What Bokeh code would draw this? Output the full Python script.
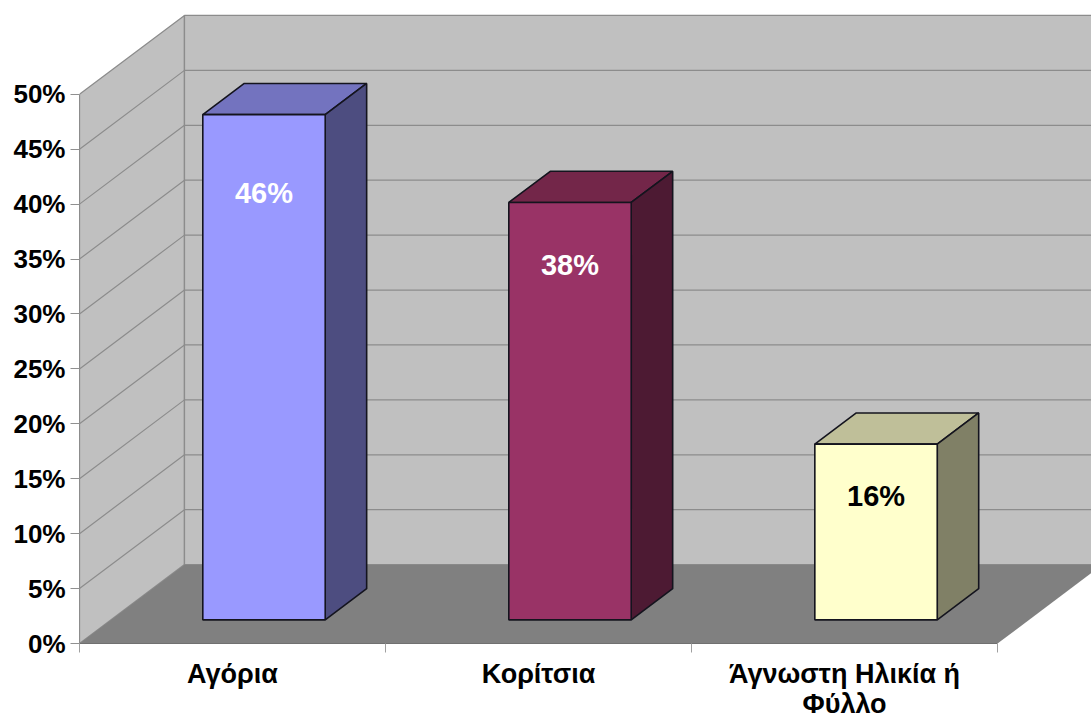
from bokeh.plotting import figure
from bokeh.models import FixedTicker, Range1d
from bokeh.core.properties import value
from bokeh.embed import file_html
from bokeh.resources import INLINE

categories = ["Αγόρια", "Κορίτσια", "Άγνωστη Ηλικία ή\nΦύλλο"]
shares = [46, 38, 16]
share_labels = ["46%", "38%", "16%"]
y_ticks = [0, 5, 10, 15, 20, 25, 30, 35, 40, 45, 50]
y_tick_labels = ["0%", "5%", "10%", "15%", "20%", "25%", "30%", "35%", "40%", "45%", "50%"]
label_heights = [41.05, 34.5, 13.45]
label_colors = ["#FFFFFF", "#FFFFFF", "#000000"]
face_colors = ["#9999FF", "#993366", "#FFFFCC"]
top_colors = ["#7373BF", "#732649", "#BFBF99"]
side_colors = ["#4D4D80", "#4D1A33", "#808066"]

FONT = "Liberation Sans"
DX, DY = 0.343, 7.18          # offset of the back wall from the front plane
D0, D1 = 0.30, 0.695          # depth span of a bar
HALF = 0.2                    # half of a bar's width
XMAX, YMAX = 3.307, 58.54
GRID = "#8C8C8C"
EDGE = "#14141E"


def prj(x, y, d):
    return x + d * DX, y + d * DY


p = figure(width=1091, height=722, x_range=Range1d(0, XMAX), y_range=Range1d(0, YMAX),
           output_backend="svg", toolbar_location=None,
           min_border_left=79, min_border_right=0, min_border_top=0, min_border_bottom=78,
           background_fill_color="white", border_fill_color="white", outline_line_color=None)
p.grid.visible = False


def poly(points, fill, line=None, width=1.0):
    xs = [q[0] for q in points]
    ys = [q[1] for q in points]
    p.patch(xs, ys, fill_color=fill, line_color=line, line_width=width)


n = len(categories)
top = y_ticks[-1]
# left wall, back wall, floor
poly([prj(0, 0, 0), prj(0, 0, 1), prj(0, top, 1), prj(0, top, 0)], "#C0C0C0", GRID, 1.3)
poly([prj(0, 0, 1), prj(n, 0, 1), prj(n, top, 1), prj(0, top, 1)], "#C0C0C0", GRID, 1.3)
for t in y_ticks[1:-1]:
    a, b, c = prj(0, t, 0), prj(0, t, 1), prj(n, t, 1)
    p.line([a[0], b[0], c[0]], [a[1], b[1], c[1]], line_color=GRID, line_width=1.2)
poly([prj(0, 0, 0), prj(n, 0, 0), prj(n, 0, 1), prj(0, 0, 1)], "#808080", None)

for i, v in enumerate(shares):
    cx = i + 0.5
    l, r = cx - HALF, cx + HALF
    poly([prj(l, v, D0), prj(r, v, D0), prj(r, v, D1), prj(l, v, D1)], top_colors[i], EDGE, 1.6)
    poly([prj(r, 0, D0), prj(r, 0, D1), prj(r, v, D1), prj(r, v, D0)], side_colors[i], EDGE, 1.6)
    poly([prj(l, 0, D0), prj(r, 0, D0), prj(r, v, D0), prj(l, v, D0)], face_colors[i], EDGE, 1.6)

p.text([prj(i + 0.5, 0, D0)[0] for i in range(n)], label_heights, text=share_labels,
       text_color=label_colors, text_font=value(FONT), text_font_style="bold",
       text_font_size="29px", text_align="center", text_baseline="middle")

ax = p.xaxis[0]
ax.bounds = (0, n)
ax.ticker = FixedTicker(ticks=[i + 0.5 for i in range(n)], minor_ticks=list(range(n + 1)))
ax.major_label_overrides = {i + 0.5: c for i, c in enumerate(categories)}
ax.major_tick_line_color = None
ax.minor_tick_in = 0
ax.minor_tick_out = 9
ax.minor_tick_line_color = "#A0A0A0"
ax.axis_line_color = "#707070"
ax.axis_line_width = 1.2
ax.major_label_standoff = 6
ax.major_label_text_font = FONT
ax.major_label_text_font_style = "bold"
ax.major_label_text_font_size = "27px"
ax.major_label_text_line_height = 1.02
ax.major_label_text_color = "#000000"

ay = p.yaxis[0]
ay.bounds = (0, top)
ay.ticker = FixedTicker(ticks=y_ticks)
ay.major_label_overrides = dict(zip(y_ticks, y_tick_labels))
ay.major_tick_in = 0
ay.major_tick_out = 9
ay.minor_tick_line_color = None
ay.major_tick_line_color = "#909090"
ay.axis_line_color = GRID
ay.major_label_standoff = 5
ay.major_label_text_font = FONT
ay.major_label_text_font_style = "bold"
ay.major_label_text_font_size = "26px"
ay.major_label_text_color = "#000000"

open("out.html", "w").write(file_html(p, INLINE))
